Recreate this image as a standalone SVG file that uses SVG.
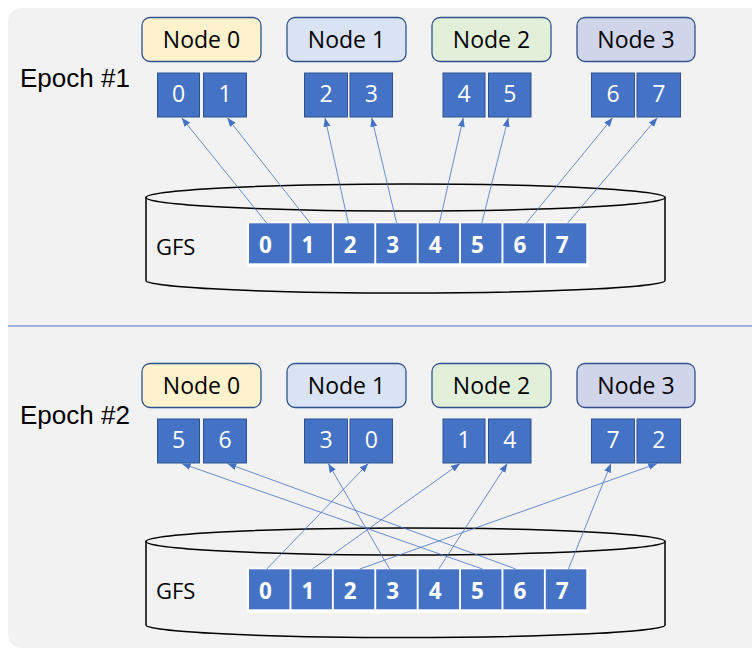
<svg xmlns="http://www.w3.org/2000/svg" width="752" height="650" viewBox="0 0 752 650">
<style>
.bg{fill:#F2F2F2}
.node{stroke:#2F528F;stroke-width:1.3}
.lbl{font-family:"Open Sans","DejaVu Sans",sans-serif;font-size:23px;fill:#000;text-anchor:middle}
.ep{font-family:"Liberation Sans",Arial,sans-serif;font-size:26px;fill:#000}
.sq{fill:#4472C4;stroke:#2F528F;stroke-width:1}
.sqt{font-family:"Open Sans","DejaVu Sans",sans-serif;font-size:23px;fill:#fff;text-anchor:middle}
.gsq{fill:#4472C4}
.gt{font-family:"Open Sans","DejaVu Sans",sans-serif;font-size:22.5px;font-weight:bold;fill:#fff;text-anchor:middle}
.gfs{font-family:"Open Sans","DejaVu Sans",sans-serif;font-size:22px;fill:#000}
.cyl{fill:#F2F2F2;stroke:#000;stroke-width:1.5}
.con{stroke:#4472C4;stroke-width:0.8;fill:none;marker-end:url(#ah)}
</style>
<defs>
<marker id="ah" markerUnits="userSpaceOnUse" markerWidth="10" markerHeight="8" refX="9" refY="3.5" orient="auto">
<path d="M0,0 L9,3.5 L0,7 z" fill="#4472C4"/>
</marker>
</defs>
<rect class="bg" x="8" y="8" width="760" height="640" rx="14"/>
<line x1="8" y1="326" x2="752" y2="326" stroke="#4472C4" stroke-width="1"/>

<!-- Epoch 1 -->
<text class="ep" x="20" y="87">Epoch #1</text>
<g id="gfs1">
<path class="cyl" d="M146,197.5 L146,280.5 A259.5,12.5 0 0 0 665,280.5 L665,197.5 Z"/>
<ellipse class="cyl" cx="405.5" cy="197.5" rx="259.5" ry="13.5"/>
<text class="gfs" x="156" y="255">GFS</text>
<rect x="247.5" y="221.7" width="341" height="45.6" fill="#fff"/>
<rect class="gsq" x="249" y="223.3" width="40.5" height="40"/><text class="gt" x="265.5" y="253.3">0</text>
<rect class="gsq" x="291.4" y="223.3" width="40.5" height="40"/><text class="gt" x="307.9" y="253.3">1</text>
<rect class="gsq" x="333.8" y="223.3" width="40.5" height="40"/><text class="gt" x="350.3" y="253.3">2</text>
<rect class="gsq" x="376.2" y="223.3" width="40.5" height="40"/><text class="gt" x="392.7" y="253.3">3</text>
<rect class="gsq" x="418.6" y="223.3" width="40.5" height="40"/><text class="gt" x="435.1" y="253.3">4</text>
<rect class="gsq" x="461" y="223.3" width="40.5" height="40"/><text class="gt" x="477.5" y="253.3">5</text>
<rect class="gsq" x="503.4" y="223.3" width="40.5" height="40"/><text class="gt" x="519.9" y="253.3">6</text>
<rect class="gsq" x="545.8" y="223.3" width="40.5" height="40"/><text class="gt" x="562.3" y="253.3">7</text>
</g>
<g id="e1-node0">
<rect class="node" x="142" y="17.5" width="119" height="44" rx="8" fill="#FFF2CC"/>
<text class="lbl" x="201.5" y="48">Node 0</text>
<rect class="sq" x="157.5" y="73" width="42" height="44"/><text class="sqt" x="178.5" y="102">0</text>
<rect class="sq" x="203.5" y="73" width="43" height="44"/><text class="sqt" x="225" y="102">1</text>
</g>
<g id="e1-node1">
<rect class="node" x="287" y="17.5" width="119" height="44" rx="8" fill="#DAE3F3"/>
<text class="lbl" x="346.5" y="48">Node 1</text>
<rect class="sq" x="304.5" y="73" width="43" height="44"/><text class="sqt" x="326" y="102">2</text>
<rect class="sq" x="350" y="73" width="42.5" height="44"/><text class="sqt" x="371.3" y="102">3</text>
</g>
<g id="e1-node2">
<rect class="node" x="432" y="17.5" width="119" height="44" rx="8" fill="#E2F0D9"/>
<text class="lbl" x="491.5" y="48">Node 2</text>
<rect class="sq" x="443" y="73" width="42" height="44"/><text class="sqt" x="464" y="102">4</text>
<rect class="sq" x="488.5" y="73" width="42.5" height="44"/><text class="sqt" x="509.8" y="102">5</text>
</g>
<g id="e1-node3">
<rect class="node" x="577" y="17.5" width="118" height="44" rx="8" fill="#D0D5EA"/>
<text class="lbl" x="636" y="48">Node 3</text>
<rect class="sq" x="591.5" y="73" width="43" height="44"/><text class="sqt" x="613" y="102">6</text>
<rect class="sq" x="637" y="73" width="43.5" height="44"/><text class="sqt" x="658.8" y="102">7</text>
</g>

<!-- Epoch 2 -->
<text class="ep" x="20" y="424">Epoch #2</text>
<g id="gfs2">
<path class="cyl" d="M146,541.5 L146,625 A259.5,12.5 0 0 0 665,625 L665,541.5 Z"/>
<ellipse class="cyl" cx="405.5" cy="541.5" rx="259.5" ry="13.5"/>
<text class="gfs" x="156" y="599">GFS</text>
<rect x="247.5" y="567.7" width="341" height="45.6" fill="#fff"/>
<rect class="gsq" x="249" y="569.3" width="40.5" height="40"/><text class="gt" x="265.5" y="599.3">0</text>
<rect class="gsq" x="291.4" y="569.3" width="40.5" height="40"/><text class="gt" x="307.9" y="599.3">1</text>
<rect class="gsq" x="333.8" y="569.3" width="40.5" height="40"/><text class="gt" x="350.3" y="599.3">2</text>
<rect class="gsq" x="376.2" y="569.3" width="40.5" height="40"/><text class="gt" x="392.7" y="599.3">3</text>
<rect class="gsq" x="418.6" y="569.3" width="40.5" height="40"/><text class="gt" x="435.1" y="599.3">4</text>
<rect class="gsq" x="461" y="569.3" width="40.5" height="40"/><text class="gt" x="477.5" y="599.3">5</text>
<rect class="gsq" x="503.4" y="569.3" width="40.5" height="40"/><text class="gt" x="519.9" y="599.3">6</text>
<rect class="gsq" x="545.8" y="569.3" width="40.5" height="40"/><text class="gt" x="562.3" y="599.3">7</text>
</g>
<g id="e2-node0">
<rect class="node" x="142" y="363.5" width="119" height="44" rx="8" fill="#FFF2CC"/>
<text class="lbl" x="201.5" y="394">Node 0</text>
<rect class="sq" x="157.5" y="419" width="42" height="44"/><text class="sqt" x="178.5" y="448">5</text>
<rect class="sq" x="203.5" y="419" width="43" height="44"/><text class="sqt" x="225" y="448">6</text>
</g>
<g id="e2-node1">
<rect class="node" x="287" y="363.5" width="119" height="44" rx="8" fill="#DAE3F3"/>
<text class="lbl" x="346.5" y="394">Node 1</text>
<rect class="sq" x="304.5" y="419" width="43" height="44"/><text class="sqt" x="326" y="448">3</text>
<rect class="sq" x="350" y="419" width="42.5" height="44"/><text class="sqt" x="371.3" y="448">0</text>
</g>
<g id="e2-node2">
<rect class="node" x="432" y="363.5" width="119" height="44" rx="8" fill="#E2F0D9"/>
<text class="lbl" x="491.5" y="394">Node 2</text>
<rect class="sq" x="443" y="419" width="42" height="44"/><text class="sqt" x="464" y="448">1</text>
<rect class="sq" x="488.5" y="419" width="42.5" height="44"/><text class="sqt" x="509.8" y="448">4</text>
</g>
<g id="e2-node3">
<rect class="node" x="577" y="363.5" width="118" height="44" rx="8" fill="#D0D5EA"/>
<text class="lbl" x="636" y="394">Node 3</text>
<rect class="sq" x="591.5" y="419" width="43" height="44"/><text class="sqt" x="613" y="448">7</text>
<rect class="sq" x="637" y="419" width="43.5" height="44"/><text class="sqt" x="658.8" y="448">2</text>
</g>

<g id="connectors">
<line class="con" x1="266.7" y1="223" x2="181.7" y2="117.8"/>
<line class="con" x1="310" y1="223" x2="227.3" y2="117.8"/>
<line class="con" x1="348.3" y1="223" x2="325" y2="117.8"/>
<line class="con" x1="396.6" y1="223" x2="371.7" y2="117.8"/>
<line class="con" x1="439.4" y1="223" x2="463.3" y2="117.8"/>
<line class="con" x1="481.8" y1="223" x2="508.3" y2="117.8"/>
<line class="con" x1="526.4" y1="223" x2="612.7" y2="117.8"/>
<line class="con" x1="567.7" y1="223" x2="657.3" y2="117.8"/>

<line class="con" x1="266.8" y1="569" x2="368.3" y2="463.5"/>
<line class="con" x1="312.4" y1="569" x2="460" y2="463.5"/>
<line class="con" x1="359.7" y1="569" x2="657.3" y2="463.5"/>
<line class="con" x1="389.6" y1="569" x2="328.3" y2="463.5"/>
<line class="con" x1="438.7" y1="569" x2="507.3" y2="463.5"/>
<line class="con" x1="482.5" y1="569" x2="181.7" y2="463.5"/>
<line class="con" x1="515.8" y1="569" x2="227.3" y2="463.5"/>
<line class="con" x1="568.4" y1="569" x2="611" y2="463.5"/>
</g>
</svg>
